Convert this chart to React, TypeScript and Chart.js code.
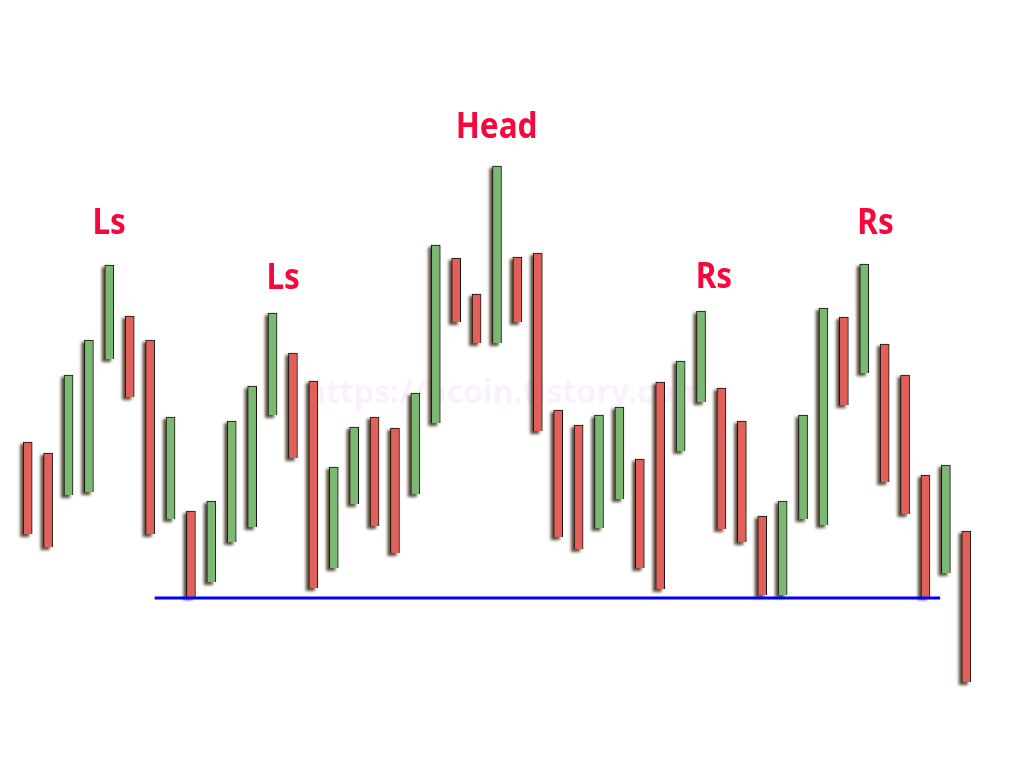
import React, { useEffect, useRef } from "react";
import { Chart, registerables } from "chart.js";

Chart.register(...registerables);

// Open / close of each bar (price units)
const opens = [
  81.5, 78.75, 68.25, 69, 102.25, 113, 107, 62.25, 64.25, 46.5,
  56.5, 60.25, 88.25, 103.75, 96.75, 50, 66, 87.75, 85, 68.5,
  86.25, 127.5, 118.5, 106.25, 127.75, 128.75, 89.5, 85.75, 60, 67.25,
  77.25, 96.5, 79.25, 91.5, 95, 86.75, 63, 43.25, 62.25, 60.75,
  112.75, 98.75, 106, 98.25, 73.25, 48.75, 59.25,
];
const closes = [
  58.5, 55.25, 98.25, 107, 125.75, 92.75, 58.5, 87.75, 42.75, 66.75,
  86.75, 95.5, 113.75, 77.5, 45, 75.25, 85.25, 60.5, 53.75, 93.75,
  130.75, 111.5, 106.25, 150.5, 111.5, 84.25, 57.75, 54.75, 88.25, 90.25,
  50, 44.75, 101.75, 114.25, 59.75, 56.5, 43.25, 66.75, 88.25, 115,
  90.75, 126, 71.5, 63.5, 42.75, 75.75, 21.5,
];
const categories = opens.map((_, i) => String(i + 1));

// Neckline (support) level and its start / end bar positions
const necklineLevel = 42.5;
const necklineFrom = 6.0;
const necklineTo = 44.5;

// Pattern labels
const labelTexts = ["Ls", "Ls", "Head", "Rs", "Rs"];
const labelPositions = [3.77, 12.3, 22.76, 33.41, 41.33];
const labelLevels = [133.5, 119.75, 157.5, 120, 133.5];

const watermark = "https://bcoin.tistory.com";

const UP = "#7BB872";
const DOWN = "#E2605A";

export default function App() {
  const ref = useRef<HTMLCanvasElement | null>(null);

  useEffect(() => {
    if (!ref.current) return;

    const shadowPlugin = {
      id: "barShadow",
      beforeDatasetsDraw(chart: any) {
        const ctx = chart.ctx;
        // watermark
        ctx.save();
        ctx.font = "bold 33px 'Noto Sans'";
        ctx.fillStyle = "rgba(248, 226, 252, 0.5)";
        ctx.textBaseline = "alphabetic";
        ctx.textAlign = "left";
        ctx.fillText(watermark, 305, 403, 400);
        ctx.restore();

        const meta = chart.getDatasetMeta(0);
        ctx.save();
        ctx.filter = "blur(1.5px)";
        ctx.fillStyle = "rgba(62, 46, 26, 0.85)";
        meta.data.forEach((el: any) => {
          const { x, y, base, width } = el.getProps(["x", "y", "base", "width"], true);
          const top = Math.min(y, base);
          const h = Math.abs(base - y);
          ctx.fillRect(x - width / 2 - 3, top + 2, width, h + 1);
        });
        ctx.restore();
      },
      afterDatasetsDraw(chart: any) {
        const ctx = chart.ctx;
        const xs = chart.scales.xl;
        const ys = chart.scales.y;
        ctx.save();
        ctx.fillStyle = "#F5083C";
        ctx.font = "bold 35px 'Noto Sans'";
        ctx.textAlign = "center";
        ctx.textBaseline = "alphabetic";
        labelTexts.forEach((t, i) => {
          const px = xs.getPixelForValue(labelPositions[i]);
          const py = ys.getPixelForValue(labelLevels[i]);
          ctx.save();
          ctx.translate(px, py);
          ctx.scale(0.9, 1);
          ctx.fillText(t, 0, 0);
          ctx.restore();
        });
        ctx.restore();
      },
    };

    const chart = new Chart(ref.current, {
      type: "bar",
      data: {
        labels: categories,
        datasets: [
          {
            type: "bar",
            data: opens.map((o, i) => [Math.min(o, closes[i]), Math.max(o, closes[i])]) as any,
            backgroundColor: opens.map((o, i) => (closes[i] >= o ? UP : DOWN)),
            borderColor: "#111111",
            borderWidth: { left: 1, right: 1, top: 1, bottom: 0 } as any,
            borderSkipped: false,
            barThickness: 9,
            xAxisID: "x",
            yAxisID: "y",
            order: 2,
          } as any,
          {
            type: "line",
            data: [
              { x: necklineFrom, y: necklineLevel },
              { x: necklineTo, y: necklineLevel },
            ] as any,
            borderColor: "#0000FF",
            borderWidth: 3,
            pointRadius: 0,
            xAxisID: "xl",
            yAxisID: "y",
            order: 1,
          } as any,
        ],
      },
      options: {
        animation: false,
        responsive: true,
        maintainAspectRatio: false,
        layout: { padding: { left: 22, right: 43, top: 0, bottom: 0 } },
        plugins: {
          legend: { display: false },
          tooltip: { enabled: false },
          title: { display: false },
        },
        scales: {
          x: { type: "category", display: false, offset: true },
          xl: {
            type: "linear",
            display: false,
            offset: false,
            grace: 0,
            bounds: "data",
            min: -0.5,
            max: categories.length - 0.5,
          },
          y: { type: "linear", display: false, min: 0, max: 192 },
        },
      },
      plugins: [shadowPlugin],
    });

    return () => chart.destroy();
  }, []);

  return (
    <div
      style={{
        position: "absolute",
        left: 0,
        top: 0,
        width: 1024,
        height: 768,
        background: "#ffffff",
      }}
    >
      <canvas ref={ref} />
    </div>
  );
}
